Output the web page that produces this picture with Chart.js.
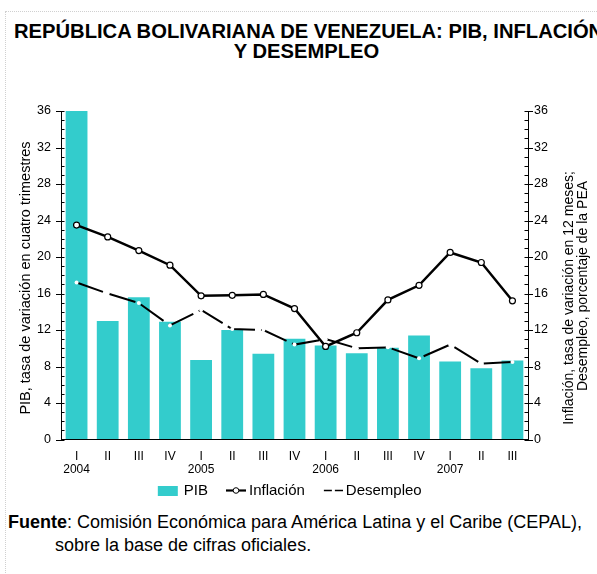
<!DOCTYPE html>
<html>
<head>
<meta charset="utf-8">
<script src="https://cdn.jsdelivr.net/npm/chart.js@4.4.0/dist/chart.umd.min.js"></script>
<style>
  body { margin: 0; background: #fff; width: 597px; height: 574px; overflow: hidden; position: relative; font-family: "Liberation Sans", Arial, sans-serif; }
  #frame { position: absolute; left: 5px; top: 11px; width: 700px; height: 700px; border: 1px dotted #d0d0d0; }
  #title { position: absolute; left: 14px; top: 21px; width: 585px; text-align: center; font-weight: bold; font-size: 20.2px; line-height: 20px; white-space: nowrap; color: #000; }
  #wrap { position: absolute; left: 0; top: 0; width: 597px; height: 508px; }
  #fuente { position: absolute; left: 8px; top: 511px; font-size: 18px; line-height: 23px; color: #000; white-space: nowrap; }
  #fuente .l2 { padding-left: 47px; }
</style>
</head>
<body>
<div id="frame"></div>
<div id="title">REPÚBLICA BOLIVARIANA DE VENEZUELA: PIB, INFLACIÓN<br>Y DESEMPLEO</div>
<div id="wrap"><canvas id="chart" width="597" height="508"></canvas></div>
<div id="fuente"><b>Fuente</b>: Comisión Económica para América Latina y el Caribe (CEPAL),<br><span class="l2">sobre la base de cifras oficiales.</span></div>
<script>
const quarters = ['I', 'II', 'III', 'IV', 'I', 'II', 'III', 'IV', 'I', 'II', 'III', 'IV', 'I', 'II', 'III'];
const years = ['2004', '', '', '', '2005', '', '', '', '2006', '', '', '', '2007', '', ''];

// PIB, tasa de variación en cuatro trimestres
const pib = [36.0, 13.0, 15.6, 12.9, 8.7, 12.0, 9.4, 11.05, 10.3, 9.45, 10.05, 11.4, 8.55, 7.8, 8.65];
// Inflación, tasa de variación en 12 meses
const inflacion = [23.5, 22.2, 20.7, 19.1, 15.75, 15.8, 15.9, 14.35, 10.2, 11.7, 15.3, 16.9, 20.5, 19.4, 15.2];
// Desempleo, porcentaje de la PEA
const desempleo = [17.2, 16.0, 14.95, 12.5, 14.2, 12.1, 12.0, 10.4, 11.0, 10.0, 10.1, 8.9, 10.4, 8.3, 8.5];

const seriesNames = ['PIB', 'Inflación', 'Desempleo'];
const leftTitle = 'PIB, tasa de variación en cuatro trimestres';
const rightTitle = ['Inflación, tasa de variación en 12 meses;', 'Desempleo, porcentaje de la PEA'];

const FONT = '"Liberation Sans", Arial, sans-serif';
const CYAN = '#33CCCC';

const labels = quarters.map((q, i) => years[i] ? [q, years[i]] : q);

// iconos de la leyenda (margen transparente a la izquierda)
function makeIcon(draw) {
  const c = document.createElement('canvas');
  c.width = 36; c.height = 11;
  draw(c.getContext('2d'));
  return c;
}
const legendIcons = [
  makeIcon(g => { g.fillStyle = CYAN; g.fillRect(13, 1, 20, 10); }),
  makeIcon(g => {
    g.strokeStyle = '#000'; g.lineWidth = 2.2;
    g.beginPath(); g.moveTo(16, 5.5); g.lineTo(36, 5.5); g.stroke();
    g.fillStyle = '#fff'; g.lineWidth = 1;
    g.beginPath(); g.arc(26, 5.5, 2.8, 0, Math.PI * 2); g.fill(); g.stroke();
  }),
  makeIcon(g => {
    g.strokeStyle = '#000'; g.lineWidth = 1.6;
    g.beginPath(); g.moveTo(17, 5.5); g.lineTo(25, 5.5); g.moveTo(28, 5.5); g.lineTo(36, 5.5); g.stroke();
  })
];

// marcas menores y títulos de ejes
const axisDecor = {
  id: 'axisDecor',
  afterDraw(chart) {
    const ctx = chart.ctx;
    const yl = chart.scales.y;
    ctx.save();
    ctx.strokeStyle = '#000';
    ctx.lineWidth = 1;
    for (let v = yl.min; v <= yl.max; v++) {
      const major = v % 4 === 0;
      const py = Math.round(yl.getPixelForValue(v)) + 0.5;
      const lx = chart.chartArea.left, rx = chart.chartArea.right;
      ctx.beginPath();
      ctx.moveTo(lx - (major ? 5 : 0), py); ctx.lineTo(lx + 3.5, py);
      ctx.moveTo(rx + (major ? 5 : 0), py); ctx.lineTo(rx - 3.5, py);
      ctx.stroke();
    }
    ctx.fillStyle = '#000';
    ctx.textAlign = 'center';
    ctx.textBaseline = 'middle';
    ctx.font = '14.5px ' + FONT;
    ctx.save();
    ctx.translate(26, 278);
    ctx.rotate(-Math.PI / 2);
    ctx.fillText(leftTitle, 0, 0);
    ctx.restore();
    ctx.font = '14px ' + FONT;
    ctx.save();
    ctx.translate(569, 298);
    ctx.rotate(-Math.PI / 2);
    ctx.fillText(rightTitle[0], 0, 0);
    ctx.restore();
    ctx.save();
    ctx.translate(583, 286);
    ctx.rotate(-Math.PI / 2);
    ctx.fillText(rightTitle[1], 0, 0);
    ctx.restore();
    ctx.restore();
  }
};

const yTicks = { stepSize: 4, color: '#000', font: { family: FONT, size: 12.5 } };

new Chart(document.getElementById('chart'), {
  data: {
    labels: labels,
    datasets: [
      {
        type: 'bar',
        label: seriesNames[0],
        data: pib,
        backgroundColor: CYAN,
        borderWidth: 0,
        barPercentage: 0.7,
        categoryPercentage: 1.0,
        yAxisID: 'y',
        order: 2
      },
      {
        type: 'line',
        label: seriesNames[1],
        data: inflacion,
        borderColor: '#000',
        borderWidth: 2.5,
        pointRadius: 3,
        pointBackgroundColor: '#fff',
        pointBorderColor: '#000',
        pointBorderWidth: 1.2,
        tension: 0,
        yAxisID: 'y1',
        order: 0
      },
      {
        type: 'line',
        label: seriesNames[2],
        data: desempleo,
        borderColor: '#000',
        borderWidth: 2,
        borderDash: [28, 6],
        pointRadius: 2,
        pointBackgroundColor: '#fff',
        pointBorderWidth: 0,
        tension: 0,
        yAxisID: 'y1',
        order: 1
      }
    ]
  },
  options: {
    responsive: false,
    animation: false,
    layout: { padding: { top: 111, left: 0, right: 26, bottom: 0 } },
    plugins: {
      title: { display: false },
      tooltip: { enabled: false },
      legend: {
        position: 'bottom',
        labels: {
          color: '#000',
          font: { family: FONT, size: 15 },
          usePointStyle: true,
          pointStyleWidth: 27,
          padding: 6.5,
          generateLabels: () => seriesNames.map((name, i) => ({
            text: name,
            pointStyle: legendIcons[i],
            datasetIndex: i,
            fillStyle: 'rgba(0,0,0,0)',
            strokeStyle: 'rgba(0,0,0,0)',
            lineWidth: 0,
            hidden: false,
            fontColor: '#000'
          }))
        }
      }
    },
    scales: {
      x: {
        grid: { drawOnChartArea: false, drawTicks: false },
        border: { display: true, color: '#000', width: 1 },
        ticks: { color: '#000', padding: 11, font: { family: FONT, size: 12, lineHeight: 1.05 }, maxRotation: 0, autoSkip: false },
        afterFit: s => { s.height = 37; }
      },
      y: {
        position: 'left',
        min: 0,
        max: 36,
        grid: { drawOnChartArea: false, drawTicks: false },
        border: { display: true, color: '#000', width: 1 },
        ticks: Object.assign({ padding: 10 }, yTicks),
        afterFit: s => { s.width = 61; }
      },
      y1: {
        position: 'right',
        min: 0,
        max: 36,
        grid: { drawOnChartArea: false, drawTicks: false },
        border: { display: true, color: '#000', width: 1 },
        ticks: Object.assign({ padding: 6 }, yTicks),
        afterFit: s => { s.width = 43; }
      }
    }
  },
  plugins: [axisDecor]
});
</script>
</body>
</html>
